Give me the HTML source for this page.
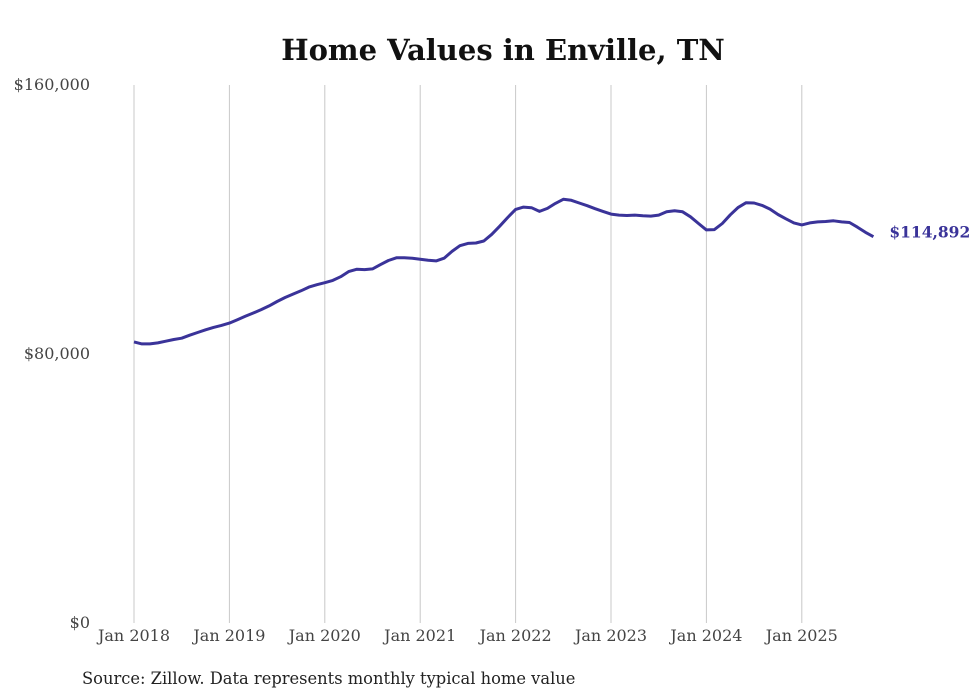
<!DOCTYPE html>
<html><head><meta charset="utf-8"><style>
body{margin:0;background:#fff;}
svg{display:block;font-family:"DejaVu Serif","Liberation Serif",serif;}
</style></head><body>
<svg id="chart" width="980" height="699" viewBox="0 0 980 699">
<text x="503" y="60" text-anchor="middle" font-size="29" font-weight="bold" fill="#111">Home Values in Enville, TN</text>
<g id="grid"></g><g id="yticks"></g><g id="xticks"></g>
<path id="line" fill="none" stroke="#3a3399" stroke-width="3" stroke-linejoin="round"/>
<text id="endlabel" font-size="15.5" font-weight="bold" fill="#3a3399"></text>
<text x="82" y="684" font-size="16.3" fill="#222">Source: Zillow. Data represents monthly typical home value</text>
</svg>
<script>
const yearLabels=["Jan 2018","Jan 2019","Jan 2020","Jan 2021","Jan 2022","Jan 2023","Jan 2024","Jan 2025"];
const yTickValues=[0,80000,160000];
const yTickLabels=["$0","$80,000","$160,000"];
const values=[83.6,83.0,83.0,83.3,83.8,84.3,84.7,85.6,86.4,87.2,87.9,88.5,
89.2,90.2,91.2,92.2,93.2,94.3,95.6,96.8,97.8,98.8,99.9,100.6,
101.2,101.9,103.0,104.5,105.2,105.1,105.3,106.6,107.8,108.6,108.6,108.5,
108.2,107.9,107.7,108.5,110.5,112.2,112.9,113.0,113.6,115.6,118.0,120.6,
123.0,123.7,123.5,122.4,123.3,124.8,126.0,125.7,124.9,124.1,123.2,122.4,
121.6,121.3,121.2,121.3,121.1,121.0,121.3,122.3,122.6,122.3,120.8,118.8,
116.9,117.0,118.8,121.4,123.6,125.0,124.9,124.2,123.1,121.5,120.2,119.0,
118.4,119.0,119.3,119.4,119.6,119.3,119.1,117.7,116.2,114.892].map(v=>v*1000);
const lastLabel="$114,892";
const NS="http://www.w3.org/2000/svg";
const x0=134,monthW=7.95,yBase=623,yTop=85,yMax=160000;
const X=i=>x0+i*monthW;
const Y=v=>yBase-(v/yMax)*(yBase-yTop);
const mk=(t,a,p)=>{const e=document.createElementNS(NS,t);for(const k in a)e.setAttribute(k,a[k]);p.appendChild(e);return e;};
const grid=document.getElementById('grid'),xt=document.getElementById('xticks'),yt=document.getElementById('yticks');
yearLabels.forEach((l,k)=>{
 const x=X(k*12);
 const g=mk('line',{x1:x,x2:x,y1:yTop,y2:yBase,stroke:'#c8c8c8','stroke-width':1},grid);
 
 
 const t=mk('text',{x:x,y:641,'text-anchor':'middle','font-size':16,fill:'#444'},xt);
 t.textContent=l;
 
 
});
yTickValues.forEach((v,k)=>{
 const t=mk('text',{x:90,y:Y(v)+5,'text-anchor':'end','font-size':16,fill:'#444'},yt);
 t.textContent=yTickLabels[k];
 
 
});
document.getElementById('line').setAttribute('d',values.map((v,i)=>(i?'L':'M')+X(i).toFixed(1)+','+Y(v).toFixed(1)).join(''));
const el=document.getElementById('endlabel');
const li=values.length-1;
el.setAttribute('x',X(li)+16);el.setAttribute('y',Y(values[li])+1);
el.textContent=lastLabel;
</script>
</body></html>
